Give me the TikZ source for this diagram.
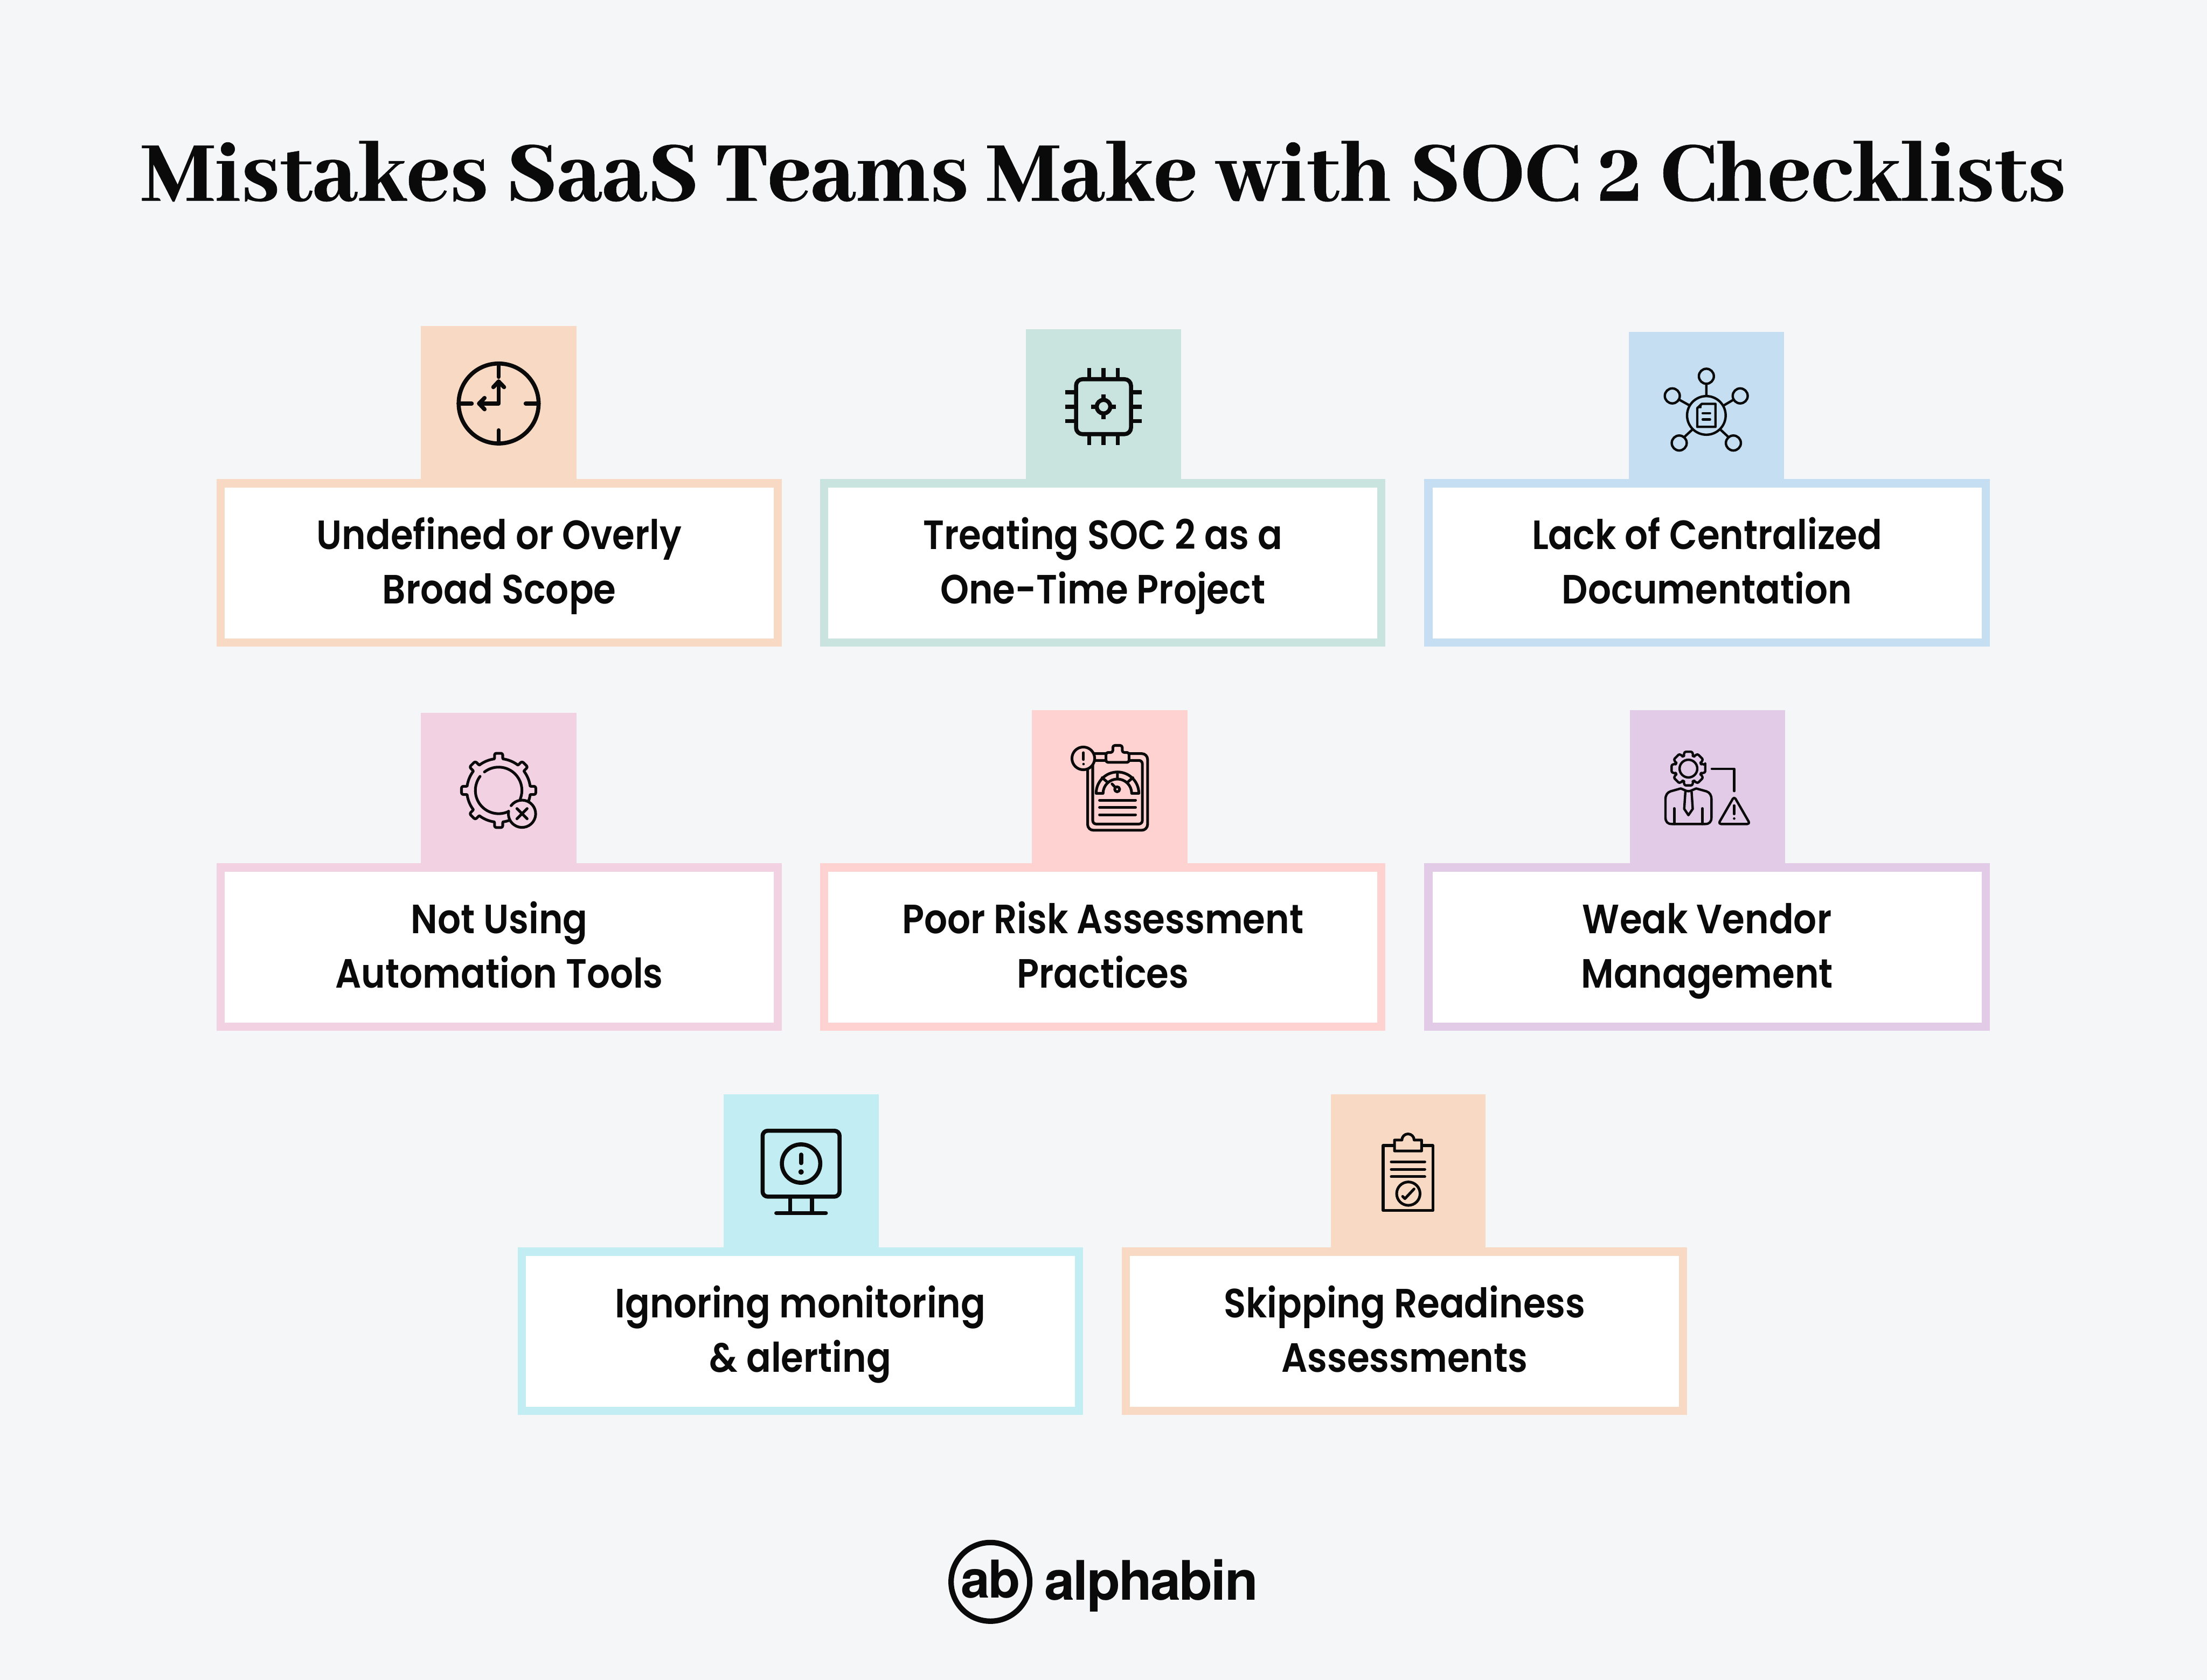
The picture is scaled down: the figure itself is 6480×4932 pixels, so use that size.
\documentclass[tikz,border=0pt]{standalone}
\usepackage{fontspec}
\newfontfamily\lblfont{Poppins}[UprightFont=* SemiBold,FakeStretch=0.89]
\newfontfamily\ttlfont{Abhaya Libre}[UprightFont=* ExtraBold,FakeBold=0.35]
\newfontfamily\logofont{TeX Gyre Heros}[UprightFont=* Bold,LetterSpace=-2.7]
\definecolor{bgc}{HTML}{F5F6F8}
\definecolor{peach}{HTML}{F7D9C4}
\definecolor{mint}{HTML}{C9E4DE}
\definecolor{sky}{HTML}{C6DEF1}
\definecolor{orchid}{HTML}{F2D1E3}
\definecolor{rose}{HTML}{FFD2D2}
\definecolor{lilac}{HTML}{E2CBE7}
\definecolor{aqua}{HTML}{C2EDF2}
\definecolor{ink}{HTML}{0A0A0A}
\newcommand{\twolines}[2]{\rule{0pt}{11.5pt}#1\\#2\rule[-3.5pt]{0pt}{1pt}}
\tikzset{
  cardbox/.style={draw=#1,line width=2.4pt,fill=white,minimum width=163.6pt,minimum height=46.7pt,inner sep=0pt,outer sep=0pt,align=center,
    text=ink,font=\lblfont\fontsize{12}{15.9}\selectfont},
  zoomed/.style={x=0.033333pt,y=-0.033333pt,draw=ink,line join=round,line cap=round},
  icon/.style={line width=#1pt}
}
\begin{document}
\begin{tikzpicture}[x=0.1pt,y=-0.1pt]
\useasboundingbox (0,0) rectangle (6480,4932);
\fill[bgc] (0,0) rectangle (6480,4932);
\node[anchor=base,text=ink,font=\ttlfont\fontsize{27.55}{30}\selectfont] (title) at (3240,589) {Mistakes SaaS Teams Make with SOC 2 Checklists};
% tabs
\fill[peach]  (1236,957)  rectangle (1692,1420);
\fill[mint]   (3012,966)  rectangle (3468,1420);
\fill[sky]    (4782,975)  rectangle (5238,1420);
\fill[orchid] (1236,2093) rectangle (1692,2548);
\fill[rose]   (3030,2085) rectangle (3486,2548);
\fill[lilac]  (4785,2085) rectangle (5241,2548);
\fill[aqua]   (2124,3213) rectangle (2580,3676);
\fill[peach]  (3907,3213) rectangle (4362,3676);
% cards
\node[cardbox=peach]  (c1) at (1466,1652.5) {\twolines{Undefined or Overly}{Broad Scope}};
\node[cardbox=mint]   (c2) at (3238,1652.5) {\twolines{Treating SOC 2 as a}{One-Time Project}};
\node[cardbox=sky]    (c3) at (5012,1652.5) {\twolines{Lack of Centralized}{Documentation}};
\node[cardbox=orchid] (c4) at (1466,2780.5) {\twolines{Not Using}{Automation Tools}};
\node[cardbox=rose]   (c5) at (3238,2780.5) {\twolines{Poor Risk Assessment}{Practices}};
\node[cardbox=lilac]  (c6) at (5012,2780.5) {\twolines{Weak Vendor}{Management}};
\node[cardbox=aqua]   (c7) at (2350,3908.5) {\twolines{Ignoring monitoring}{\& alerting}};
\node[cardbox=peach]  (c8) at (4124,3908.5) {\twolines{Skipping Readiness}{Assessments}};
% icon 1 clock
\begin{scope}[shift={(1200,940)},zoomed,icon=1.2]
\draw (792,734) circle (352);
\draw (792,385)--(792,500) (792,1085)--(792,970) (440,734)--(555,734) (1145,734)--(1030,734);
\draw (792,540)--(792,734)--(620,734);
\draw (745,590)--(792,540)--(840,590) (668,685)--(620,734)--(668,785);
\end{scope}
% icon 2 chip
\begin{scope}[shift={(2990,950)},zoomed,icon=1.2,line cap=butt]
\draw[rounded corners=1.9pt] (508,490) rectangle (992,974);
\draw (750,732) circle (60);
\draw (750,622)--(750,672) (750,792)--(750,842) (640,732)--(690,732) (810,732)--(860,732);
\foreach \p in {624,750,876}{\draw (\p,392)--(\p,480) (\p,984)--(\p,1071);}
\foreach \p in {606,732,858}{\draw (411,\p)--(500,\p) (1000,\p)--(1089,\p);}
\end{scope}
% icon 3 network
\begin{scope}[shift={(4760,960)},zoomed,icon=0.7]
\draw (750,779) circle (170);
\foreach \p in {(750,434),(450,607),(1048,607),(511,1022),(988,1022)}{\draw \p circle (66);}
\draw[line cap=butt] (750,500)--(750,605) (510,640)--(600,690) (990,640)--(905,690) (555,970)--(625,905) (945,970)--(875,905);
\draw (670,880)--(670,715)--(710,677)--(830,677)--(830,880)--cycle;
\fill[ink] (670,715)--(710,677)--(706,716)--cycle;
\draw (718,760)--(782,760) (718,815)--(782,815);
\end{scope}
% icon 4 gear with cross
\begin{scope}[shift={(1220,2080)},zoomed,icon=0.8]
\begin{scope}[shift={(732,722)}]
\foreach \a in {0,45,90,135,180,270,315}{
  \begin{scope}[rotate=\a]
  \draw[rounded corners=0.5pt] (-36,-283)--(-36,-327)--(36,-327)--(36,-283);
  \end{scope}}
\foreach \a in {0,45,...,315}{
  \draw (\a+8:280) arc (\a+8:\a+37:280);}
\draw (232.4:205) arc (232.4:381.5:205);
\draw (64.3:205) arc (64.3:217.1:205);
\end{scope}
\fill[orchid] (938,928) circle (120);
\draw (938,928) ++(216.7:120) arc (216.7:551:120);
\draw (893,972)--(983,882) (893,882)--(983,972);
\end{scope}
% icon 5 clipboard gauge
\begin{scope}[shift={(3030,2080)},zoomed,icon=0.8]
\draw[rounded corners=1.7pt] (490,398) rectangle (1018,1073);
\draw[rounded corners=1pt] (535,458) rectangle (972,1018);
\draw[fill=rose,rounded corners=0.6pt] (652,475)--(652,388)--(712,388)--(712,326)--(795,326)--(795,388)--(855,388)--(855,475)--cycle;
\draw[fill=rose] (452,440) circle (100);
\draw (454,390)--(454,450);
\fill[ink] (454,490) circle (11);
\draw (565,748) arc (180:360:188)--(878,748) arc (360:180:126)--cycle;
\draw (753,560)--(753,622) (618,610)--(665,650) (888,610)--(842,650);
\draw (705,665)--(735,697);
\draw (750,712) circle (22);
\draw (595,808)--(912,808) (595,872)--(912,872) (595,936)--(912,936);
\end{scope}
% icon 6 person
\begin{scope}[shift={(4780,2080)},zoomed,icon=0.7]
\begin{scope}[shift={(532,530)}]
\draw[rounded corners=0.4pt] (-13:152) \foreach \a in {0,45,...,315}{ -- (\a-13:152) -- (\a+13:152) -- (\a+21:118) -- (\a+24:118) } -- cycle;
\draw (0,0) circle (78);
\end{scope}
\draw (465,705)--(375,730) .. controls (345,740) and (330,765) .. (330,800)--(330,960) .. controls (330,1000) and (350,1018) .. (385,1018)--(680,1018) .. controls (715,1018) and (735,1000) .. (735,960)--(735,800) .. controls (735,765) and (720,740) .. (690,730)--(600,705)--(565,720) .. controls (545,732) and (520,732) .. (500,720)--cycle;
\draw (505,735)--(495,885)--(532,940)--(570,885)--(560,735);
\draw (408,880)--(408,1018) (655,880)--(655,1018);
\draw (738,532)--(935,532)--(935,728);
\draw[rounded corners=0.8pt] (935,775)--(795,1018)--(1075,1018)--cycle;
\draw (935,855)--(935,930);
\fill[ink] (935,970) circle (11);
\end{scope}
% icon 7 monitor
\begin{scope}[shift={(2110,3200)},zoomed,icon=1.2]
\draw[rounded corners=1.5pt] (387,360) rectangle (1065,940);
\draw (726,649) circle (169);
\draw (726,570)--(726,645);
\fill[ink] (726,723) circle (24);
\draw[line cap=butt] (630,950)--(630,1075) (822,950)--(822,1075);
\draw (508,1085)--(944,1085);
\end{scope}
% icon 8 clipboard check
\begin{scope}[shift={(3880,3200)},zoomed,icon=0.8]
\draw (543,490) rectangle (980,1063);
\draw[fill=peach] (643,538)--(643,442)--(708,442)  arc (180:360:54)--(882,442)--(882,538)--cycle;
\draw (614,634)--(910,634) (614,700)--(910,700) (614,765)--(910,765);
\draw (765,914) circle (103);
\draw (715,938)--(735,958)--(815,873);
\end{scope}
% logo
\draw[ink,line width=1.6pt] (2908,4644.5) circle (115.5);
\node[anchor=base,text=ink,font=\logofont\fontsize{15.3}{18}\selectfont,inner sep=0pt] (logoab) at (2908,4692) {ab};
\node[anchor=base,text=ink,font=\logofont\fontsize{16}{18}\selectfont,inner sep=0pt] (logoname) at (3380,4698) {alphabin};
\end{tikzpicture}
\end{document}
